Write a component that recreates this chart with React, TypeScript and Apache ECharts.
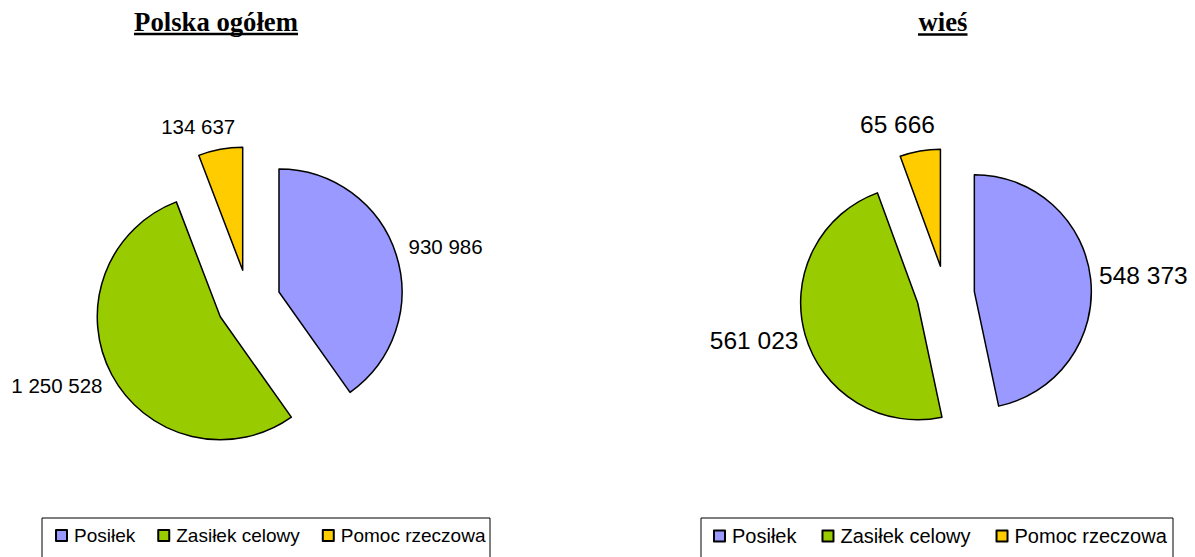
import React, { useEffect, useRef } from "react";
import * as echarts from "echarts";

const categories = ["Posiłek", "Zasiłek celowy", "Pomoc rzeczowa"];
const polskaValues = [930986, 1250528, 134637];
const wiesValues = [548373, 561023, 65666];
const chartTitles = ["Polska ogółem", "wieś"];
const colors = ["#9999FF", "#99CC00", "#FFCC00"];

const fmt = (v: number) => String(v).replace(/\B(?=(\d{3})+(?!\d))/g, " ");

function makePie(
  values: number[],
  center: [number, number],
  radius: number,
  offset: number,
  fontSize: number,
  adjust: number[][]
) {
  const itemStyle = { borderColor: "#000", borderWidth: 1.5 };
  return {
    type: "pie",
    center,
    radius,
    startAngle: 90,
    clockwise: true,
    selectedMode: "multiple",
    selectedOffset: offset,
    avoidLabelOverlap: false,
    itemStyle,
    emphasis: { disabled: true },
    select: { itemStyle },
    label: {
      show: true,
      position: "outside",
      color: "#000",
      fontSize,
      fontFamily: "'Liberation Sans', Arial, sans-serif",
      distanceToLabelLine: 4,
      formatter: (p: any) => fmt(p.value),
    },
    labelLine: { show: false, length: 6, length2: 0 },
    labelLayout: (p: any) => {
      const a = adjust[p.dataIndex];
      return { dx: a[0], dy: a[1] };
    },
    data: categories.map((name, i) => ({
      name,
      value: values[i],
      selected: true,
      itemStyle: { color: colors[i] },
    })),
  };
}

function makeLegend(left: number, fontSize: number, gap: number, pad: number[], iconSize: number) {
  return {
    data: categories,
    left,
    top: 518,
    orient: "horizontal",
    icon: "rect",
    itemWidth: iconSize,
    itemHeight: iconSize,
    itemGap: gap,
    selectedMode: false,
    padding: pad,
    textStyle: {
      fontSize,
      color: "#000",
      fontFamily: "'Liberation Sans', Arial, sans-serif",
      padding: [0, 0, 0, 2],
    },
  };
}

export default function App() {
  const ref = useRef<HTMLDivElement>(null);
  useEffect(() => {
    if (!ref.current) return;
    const chart = echarts.init(ref.current, undefined, { renderer: "svg" });
    const titleFont = "bold 26.7px 'Liberation Serif', 'Times New Roman', serif";
    chart.setOption({
      animation: false,
      backgroundColor: "#fff",
      legend: [
        makeLegend(42, 19, 22, [8, 8, 8, 13], 11),
        makeLegend(701, 20, 25, [8, 10, 8, 12], 11),
      ],
      series: [
        makePie(polskaValues, [248.5, 301.7], 123, 32, 20.5, [
          [2.6, -6],
          [0, 8],
          [20, -17],
        ]),
        makePie(wiesValues, [945.5, 294.7], 117, 29, 24.5, [
          [-1.6, -3],
          [3, 4],
          [20, -21],
        ]),
      ],
      graphic: [
        {
          type: "rect",
          shape: { x: 42, y: 518, width: 448, height: 80 },
          style: { fill: "none", stroke: "#000", lineWidth: 1 },
        },
        {
          type: "rect",
          shape: { x: 701, y: 518, width: 472, height: 80 },
          style: { fill: "none", stroke: "#000", lineWidth: 1 },
        },
        {
          type: "text",
          x: 216,
          y: 21.7,
          style: { text: chartTitles[0], font: titleFont, fill: "#000", align: "center", verticalAlign: "middle" },
        },
        {
          type: "line",
          shape: { x1: 134, y1: 34, x2: 298, y2: 34 },
          style: { stroke: "#000", lineWidth: 2.5 },
        },
        {
          type: "text",
          x: 943,
          y: 21.7,
          style: { text: chartTitles[1], font: titleFont, fill: "#000", align: "center", verticalAlign: "middle" },
        },
        {
          type: "line",
          shape: { x1: 918, y1: 34.5, x2: 967.5, y2: 34.5 },
          style: { stroke: "#000", lineWidth: 2.5 },
        },
      ],
    });
    return () => chart.dispose();
  }, []);
  return (
    <div
      ref={ref}
      style={{ position: "fixed", left: 0, top: 0, width: 1195, height: 557 }}
    />
  );
}
